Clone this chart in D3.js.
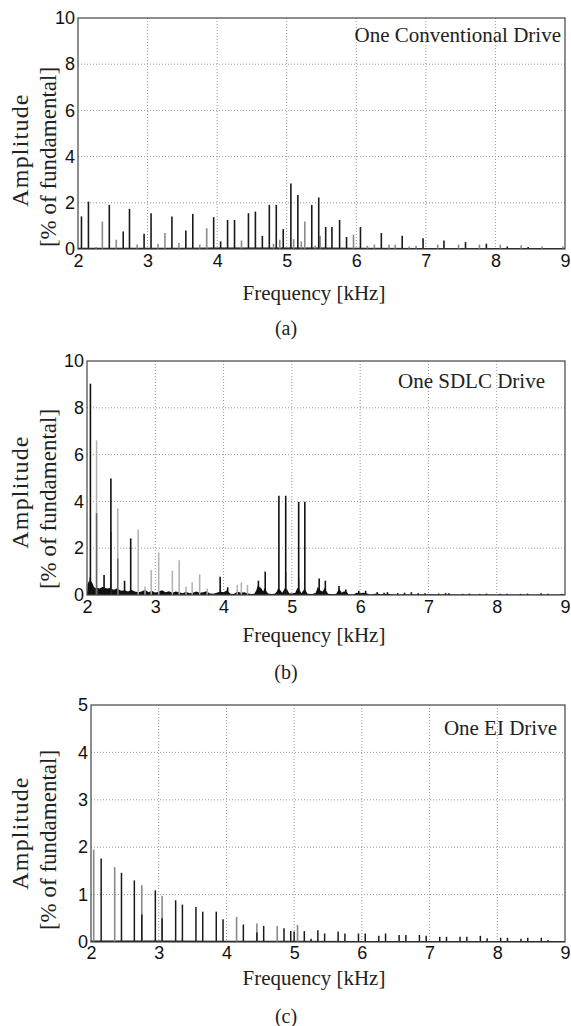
<!DOCTYPE html>
<html><head><meta charset="utf-8">
<script src="https://cdn.jsdelivr.net/npm/d3@7"></script>
<style>
html,body{margin:0;padding:0;background:#fff;}
svg{display:block;}
</style></head>
<body>
<svg id="chart" width="571" height="1026"></svg>
<script>
// ---------- DATA ----------
const xTicks = [2, 3, 4, 5, 6, 7, 8, 9];
const yTicksA = [0, 2, 4, 6, 8, 10];
const yTicksB = [0, 2, 4, 6, 8, 10];
const yTicksC = [0, 1, 2, 3, 4, 5];
const legends = ["One Conventional Drive", "One SDLC Drive", "One EI Drive"];
const captions = ["(a)", "(b)", "(c)"];
const xTitle = "Frequency [kHz]";
const yTitle1 = "Amplitude";
const yTitle2 = "[% of fundamental]";

// (a) Conventional drive
const convDarkFreq = [2.05,2.15,2.45,2.65,2.74,2.95,3.05,3.35,3.55,3.65,3.95,4.05,4.15,4.25,4.45,4.55,4.65,4.75,4.85,4.95,5.06,5.16,5.36,5.46,5.56,5.65,5.76,5.86,6.06,6.36,6.66,6.96,7.26,7.57,7.87,8.17,8.47];
const convDarkAmp  = [1.41,2.05,1.91,0.76,1.74,0.66,1.55,1.41,0.80,1.52,1.38,0.33,1.26,1.26,1.55,1.62,0.57,1.91,1.91,0.86,2.84,2.34,1.91,2.23,0.95,0.95,1.26,0.52,0.95,0.69,0.57,0.46,0.37,0.30,0.23,0.11,0.09];
const convLightFreq = [2.26,2.35,2.55,2.85,3.15,3.25,3.45,3.75,3.85,4.35,4.81,4.90,5.10,5.21,5.26,5.41,5.48,5.96,6.16,6.26,6.47,6.56,6.76,6.86,7.17,7.47,7.77,8.07,8.37,8.67,8.97];
const convLightAmp  = [0.09,1.19,0.40,0.19,0.23,0.69,0.26,0.19,0.90,0.37,0.23,0.40,0.43,0.33,1.19,0.14,0.57,0.62,0.14,0.19,0.19,0.19,0.11,0.14,0.19,0.19,0.19,0.19,0.16,0.11,0.11];
const convFloorFreq = [2.0,2.5,3.0,3.5,4.0,4.5,5.0,5.5,6.0,7.0,8.0,9.0];
const convFloorAmp  = [0.05,0.05,0.05,0.05,0.06,0.07,0.07,0.06,0.05,0.04,0.04,0.04];

// (b) SDLC drive
const sdlcDarkFreq = [2.05,2.35,2.64,4.81,4.91,5.10,5.19,4.61,2.25,2.55,3.95,4.06,4.51,5.40,5.49,5.69,5.79,5.98,6.08,6.25,6.35,6.40,6.55,6.65,6.75,6.85,6.95,7.15,7.25,7.30,7.50,7.60,7.75,7.85,8.05,8.15,8.35,8.45,8.65,8.75,8.95];
const sdlcDarkAmp  = [9.03,4.98,2.42,4.24,4.24,3.98,3.98,1.00,0.85,0.61,0.78,0.33,0.61,0.71,0.61,0.38,0.24,0.18,0.18,0.12,0.10,0.12,0.08,0.10,0.12,0.08,0.08,0.06,0.08,0.07,0.05,0.06,0.05,0.06,0.05,0.05,0.05,0.06,0.07,0.05,0.05];
const sdlcMidFreq = [2.14,2.45,2.35,4.91,5.10];
const sdlcMidAmp  = [3.50,1.56,2.70,1.00,0.75];
const sdlcLightFreq = [2.14,2.45,2.75,2.94,3.05,3.25,3.35,3.54,3.65,4.26,2.85,3.45,3.76,4.20,4.35];
const sdlcLightAmp  = [6.61,3.70,2.80,1.07,1.82,1.04,1.49,0.54,0.88,0.54,0.36,0.36,0.28,0.43,0.43];
const sdlcFloorFreq = [2.00,2.01,2.02,2.03,2.04,2.05,2.06,2.08,2.10,2.12,2.15,2.18,2.20,2.23,2.26,2.30,2.33,2.36,2.40,2.43,2.46,2.50,2.55,2.60,2.65,2.70,2.75,2.80,2.85,2.90,2.95,3.00,3.05,3.10,3.15,3.20,3.25,3.30,3.35,3.40,3.45,3.50,3.55,3.60,3.65,3.70,3.75,3.80,3.85,3.90,3.95,4.00,4.05,4.10,4.15,4.20,4.25,4.30,4.35,4.40,4.45,4.48,4.50,4.52,4.55,4.58,4.60,4.62,4.65,4.70,4.75,4.78,4.80,4.83,4.86,4.90,4.93,4.96,5.00,5.05,5.08,5.11,5.14,5.18,5.20,5.23,5.30,5.35,5.38,5.41,5.45,5.48,5.50,5.53,5.60,5.65,5.68,5.70,5.73,5.76,5.80,5.83,5.90,5.95,6.00,6.05,6.10,6.15,6.25,6.30,6.40,6.50,7.00,7.50,8.00,8.50,9.00];
const sdlcFloorAmp  = [0.00,0.45,0.60,0.50,0.75,0.85,0.60,0.50,0.35,0.30,0.32,0.28,0.30,0.35,0.30,0.28,0.30,0.26,0.22,0.28,0.25,0.18,0.20,0.15,0.22,0.15,0.12,0.15,0.22,0.12,0.18,0.10,0.15,0.20,0.12,0.16,0.10,0.15,0.12,0.08,0.14,0.08,0.10,0.15,0.10,0.12,0.16,0.06,0.05,0.10,0.15,0.12,0.20,0.05,0.04,0.15,0.10,0.12,0.08,0.04,0.05,0.20,0.40,0.35,0.30,0.15,0.30,0.20,0.06,0.04,0.05,0.15,0.30,0.20,0.10,0.30,0.25,0.08,0.06,0.10,0.30,0.25,0.08,0.25,0.20,0.05,0.04,0.10,0.35,0.20,0.15,0.30,0.20,0.05,0.03,0.05,0.20,0.25,0.10,0.15,0.15,0.03,0.02,0.10,0.08,0.10,0.06,0.02,0.06,0.03,0.05,0.02,0.03,0.02,0.02,0.02,0.02];

// (c) EI drive
const eiDarkFreq = [2.15,2.45,2.64,2.95,3.25,3.35,3.55,3.65,3.85,3.95,4.25,4.55,4.85,4.95,5.00,5.15,5.25,5.35,5.45,5.65,5.75,5.95,6.05,6.25,6.35,6.55,6.65,6.85,6.95,7.15,7.25,7.45,7.55,7.75,7.85,8.05,8.15,8.35,8.45,8.65,8.75,8.95,2.75,3.05,4.45];
const eiDarkAmp  = [1.76,1.46,1.30,1.09,0.88,0.79,0.74,0.64,0.64,0.48,0.37,0.34,0.29,0.23,0.22,0.23,0.07,0.25,0.18,0.22,0.18,0.18,0.18,0.13,0.18,0.15,0.15,0.15,0.13,0.11,0.11,0.11,0.11,0.13,0.08,0.09,0.09,0.07,0.09,0.09,0.04,0.02,0.58,0.50,0.20];
const eiLightFreq = [2.04,2.35,2.75,3.05,4.15,4.45,4.75,5.05];
const eiLightAmp  = [1.95,1.58,1.20,0.97,0.53,0.39,0.34,0.36];
const eiFloorFreq = [2.0,3.0,4.0,5.0,6.0,7.0,8.0,9.0];
const eiFloorAmp  = [0.03,0.03,0.025,0.025,0.02,0.02,0.02,0.02];

// ---------- DRAW ----------
const svg = d3.select("#chart");
const serif = "'Liberation Serif','Times New Roman',serif";
const sans = "'Liberation Sans',Arial,Helvetica,sans-serif";

function zip(f, a) { return f.map((v, i) => ({f: v, a: a[i]})); }

function panel(cfg) {
  const x = d3.scaleLinear().domain([2, 9]).range([cfg.left, cfg.right]);
  const y = d3.scaleLinear().domain([0, cfg.yMax]).range([cfg.bottom, cfg.top]);
  const g = svg.append("g");

  // grid
  g.append("g").selectAll("line").data(xTicks.slice(1, -1)).join("line")
    .attr("x1", d => x(d)).attr("x2", d => x(d)).attr("y1", cfg.top).attr("y2", cfg.bottom)
    .attr("stroke", "#9a9a9a").attr("stroke-width", 1).attr("stroke-dasharray", "1,2");
  g.append("g").selectAll("line").data(cfg.yTicks.slice(1, -1)).join("line")
    .attr("y1", d => y(d)).attr("y2", d => y(d)).attr("x1", cfg.left).attr("x2", cfg.right)
    .attr("stroke", "#9a9a9a").attr("stroke-width", 1).attr("stroke-dasharray", "1,2");

  // noise floor
  if (cfg.floor) {
    const area = d3.area().x(d => x(d.f)).y0(y(0)).y1(d => y(d.a));
    g.append("path").datum(cfg.floor).attr("d", area).attr("fill", "#111");
  }
  // spikes
  cfg.series.forEach(s => {
    g.append("g").selectAll("line").data(s.data).join("line")
      .attr("x1", d => x(d.f)).attr("x2", d => x(d.f))
      .attr("y1", y(0)).attr("y2", d => y(d.a))
      .attr("stroke", s.color).attr("stroke-width", s.w);
  });

  // frame
  g.append("rect").attr("x", cfg.left).attr("y", cfg.top)
    .attr("width", cfg.right - cfg.left).attr("height", cfg.bottom - cfg.top)
    .attr("fill", "none").attr("stroke", "#444").attr("stroke-width", 1.2);

  // axes
  const xa = g.append("g").attr("transform", `translate(0,${cfg.bottom})`)
    .call(d3.axisBottom(x).tickValues(xTicks).tickSize(0).tickPadding(cfg.xPad).tickFormat(d3.format("d")));
  xa.select(".domain").remove();
  xa.selectAll("text").attr("font-family", sans).attr("font-size", 18).attr("fill", "#111");
  const ya = g.append("g").attr("transform", `translate(${cfg.left},0)`)
    .call(d3.axisLeft(y).tickValues(cfg.yTicks).tickSize(0).tickPadding(3).tickFormat(d3.format("d")));
  ya.select(".domain").remove();
  ya.selectAll("text").attr("font-family", sans).attr("font-size", 18).attr("fill", "#111");

  // titles
  g.append("text").attr("x", 314).attr("y", cfg.xTitleY).attr("text-anchor", "middle")
    .attr("dominant-baseline", "central").attr("font-family", serif).attr("font-size", 21)
    .attr("fill", "#222").text(xTitle);
  g.append("text").attr("transform", `translate(20,${cfg.yTitleY - 5}) rotate(-90)`)
    .attr("text-anchor", "middle").attr("dominant-baseline", "central")
    .attr("font-family", serif).attr("font-size", 24).attr("letter-spacing", 1.2)
    .attr("fill", "#222").text(yTitle1);
  g.append("text").attr("transform", `translate(48,${cfg.yTitleY + 2}) rotate(-90)`)
    .attr("text-anchor", "middle").attr("dominant-baseline", "central")
    .attr("font-family", serif).attr("font-size", 23).attr("fill", "#222").text(yTitle2);
  g.append("text").attr("x", cfg.legX).attr("y", cfg.legY).attr("text-anchor", "end")
    .attr("dominant-baseline", "central").attr("font-family", serif).attr("font-size", 21)
    .attr("fill", "#222").text(cfg.legend);
  g.append("text").attr("x", 286).attr("y", cfg.capY).attr("text-anchor", "middle")
    .attr("dominant-baseline", "central").attr("font-family", serif).attr("font-size", 20)
    .attr("fill", "#222").text(cfg.caption);
}

panel({
  left: 78, right: 565, top: 18, bottom: 249, yMax: 10, yTicks: yTicksA, xPad: 5,
  floor: zip(convFloorFreq, convFloorAmp),
  series: [
    {data: zip(convLightFreq, convLightAmp), color: "#8a8a8a", w: 1.6},
    {data: zip(convDarkFreq, convDarkAmp), color: "#1a1a1a", w: 1.6}
  ],
  xTitleY: 293, yTitleY: 155, legX: 561, legY: 35, legend: legends[0], capY: 328, caption: captions[0]
});
panel({
  left: 87, right: 565, top: 361, bottom: 595, yMax: 10, yTicks: yTicksB, xPad: 5,
  floor: zip(sdlcFloorFreq, sdlcFloorAmp),
  series: [
    {data: zip(sdlcLightFreq, sdlcLightAmp), color: "#b0b0b0", w: 1.5},
    {data: zip(sdlcMidFreq, sdlcMidAmp), color: "#666", w: 1.5},
    {data: zip(sdlcDarkFreq, sdlcDarkAmp), color: "#111", w: 1.6}
  ],
  xTitleY: 635, yTitleY: 497, legX: 545, legY: 381, legend: legends[1], capY: 672, caption: captions[1]
});
panel({
  left: 91, right: 565, top: 705, bottom: 942, yMax: 5, yTicks: yTicksC, xPad: 4,
  floor: zip(eiFloorFreq, eiFloorAmp),
  series: [
    {data: zip(eiLightFreq, eiLightAmp), color: "#8a8a8a", w: 1.6},
    {data: zip(eiDarkFreq, eiDarkAmp), color: "#1a1a1a", w: 1.5}
  ],
  xTitleY: 978, yTitleY: 838, legX: 557, legY: 728, legend: legends[2], capY: 1016, caption: captions[2]
});
</script>
</body></html>
